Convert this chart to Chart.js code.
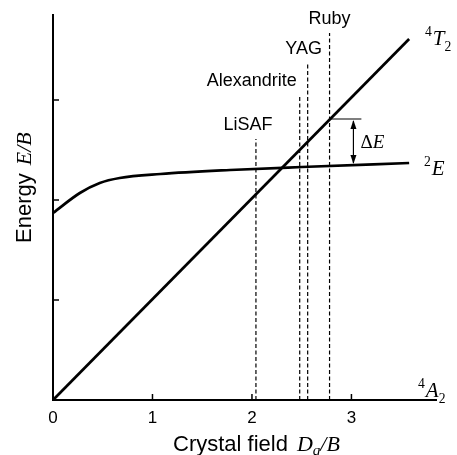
<!DOCTYPE html>
<html>
<head>
<meta charset="utf-8">
<script src="https://cdn.jsdelivr.net/npm/chart.js@4/dist/chart.umd.min.js"></script>
<style>
  body { margin: 0; background: #fff; }
  canvas { display: block; }
</style>
</head>
<body>
<canvas id="tanabe" width="457" height="455"></canvas>
<script>
// Tanabe-Sugano style levels for Cr3+ in different hosts
const SANS = '"Liberation Sans", Arial, sans-serif';
const SERIF = '"Liberation Serif", "Times New Roman", serif';

// 4T2 level (straight line from the origin)
const t2Field = [0, 3.58];
const t2Energy = [0, 3.61];

// 2E level (flat after the initial rise)
const eField = [0, 0.27, 0.47, 0.67, 1.08, 1.78, 2.5, 3.58];
const eEnergy = [1.87, 2.07, 2.17, 2.22, 2.26, 2.30, 2.33, 2.37];

// host crystals: crystal field position and top of the marker line
const hosts = ['LiSAF', 'Alexandrite', 'YAG', 'Ruby'];
const hostField = [2.04, 2.48, 2.56, 2.78];
const hostTop = [2.61, 3.05, 3.37, 3.67];

// axis ticks
const xTicks = [0, 1, 2, 3];
const yTicks = [1, 2, 3];

// Delta E bracket for ruby
const gapField = 3.02;
const gapTop = 2.81;
const gapBottom = 2.35;
const gapCapEnd = 3.1;

function pts(xs, ys) {
    return xs.map((x, i) => ({ x: x, y: ys[i] }));
}

const datasets = [
    {
        label: '4T2',
        data: pts(t2Field, t2Energy),
        borderColor: '#000',
        borderWidth: 2.7,
        showLine: true,
        pointRadius: 0
    },
    {
        label: '2E',
        data: pts(eField, eEnergy),
        borderColor: '#000',
        borderWidth: 2.7,
        showLine: true,
        pointRadius: 0,
        cubicInterpolationMode: 'monotone'
    }
];

hosts.forEach((name, i) => {
    datasets.push({
        label: name,
        data: [{ x: hostField[i], y: 0 }, { x: hostField[i], y: hostTop[i] }],
        borderColor: '#000',
        borderWidth: 1.2,
        borderDash: [4, 2.5],
        showLine: true,
        pointRadius: 0
    });
});

// short cap line at the top of the Delta E bracket
datasets.push({
    label: 'gapCap',
    data: [{ x: hostField[3], y: gapTop }, { x: gapCapEnd, y: gapTop }],
    borderColor: '#000',
    borderWidth: 1.2,
    showLine: true,
    pointRadius: 0
});

function drawLevel(ctx, x, y, sup, main, sub, size) {
    ctx.fillStyle = '#000';
    ctx.textBaseline = 'alphabetic';
    ctx.textAlign = 'left';
    let cx = x;
    if (sup) {
        ctx.font = (size * 0.65) + 'px ' + SERIF;
        ctx.fillText(sup, cx, y - size * 0.42);
        cx += ctx.measureText(sup).width + 1;
    }
    ctx.font = 'italic ' + size + 'px ' + SERIF;
    ctx.fillText(main, cx, y);
    cx += ctx.measureText(main).width;
    if (sub) {
        ctx.font = (size * 0.65) + 'px ' + SERIF;
        ctx.fillText(sub, cx, y + size * 0.28);
    }
}

const annotations = {
    id: 'annotations',
    afterDraw(chart) {
        const ctx = chart.ctx;
        const xs = chart.scales.x;
        const ys = chart.scales.y;
        const area = chart.chartArea;
        ctx.save();
        ctx.strokeStyle = '#000';
        ctx.fillStyle = '#000';

        // inward tick marks
        ctx.lineWidth = 1.5;
        yTicks.forEach(v => {
            const py = ys.getPixelForValue(v);
            ctx.beginPath();
            ctx.moveTo(area.left, py);
            ctx.lineTo(area.left + 6, py);
            ctx.stroke();
        });
        xTicks.slice(1).forEach(v => {
            const px = xs.getPixelForValue(v);
            ctx.beginPath();
            ctx.moveTo(px, area.bottom);
            ctx.lineTo(px, area.bottom - 6);
            ctx.stroke();
        });

        // host names above their marker lines
        ctx.font = '18px ' + SANS;
        ctx.textAlign = 'center';
        ctx.textBaseline = 'alphabetic';
        const nudge = [-8, -48, -4, 0];
        hosts.forEach((name, i) => {
            const px = xs.getPixelForValue(hostField[i]) + nudge[i];
            const py = ys.getPixelForValue(hostTop[i]) - 9;
            ctx.fillText(name, px, py);
        });

        // Delta E double arrow
        const ax = xs.getPixelForValue(gapField);
        const a1 = ys.getPixelForValue(gapTop);
        const a2 = ys.getPixelForValue(gapBottom);
        ctx.lineWidth = 1.2;
        ctx.beginPath();
        ctx.moveTo(ax, a1 + 2);
        ctx.lineTo(ax, a2 - 2);
        ctx.stroke();
        ctx.beginPath();
        ctx.moveTo(ax, a1 + 1);
        ctx.lineTo(ax - 3, a1 + 10);
        ctx.lineTo(ax + 3, a1 + 10);
        ctx.closePath();
        ctx.fill();
        ctx.beginPath();
        ctx.moveTo(ax, a2 - 1);
        ctx.lineTo(ax - 3, a2 - 10);
        ctx.lineTo(ax + 3, a2 - 10);
        ctx.closePath();
        ctx.fill();
        ctx.textAlign = 'left';
        ctx.font = '19px ' + SERIF;
        const dy = (a1 + a2) / 2 + 6;
        ctx.fillText('\u0394', ax + 7, dy);
        const dw = ctx.measureText('\u0394').width;
        ctx.font = 'italic 19px ' + SERIF;
        ctx.fillText('E', ax + 7 + dw, dy);

        // level names at the right end
        drawLevel(ctx, 425, 45, '4', 'T', '2', 21);
        drawLevel(ctx, 424, 175, '2', 'E', '', 21);
        drawLevel(ctx, 418, 397, '4', 'A', '2', 21);

        // axis titles
        ctx.textAlign = 'left';
        ctx.textBaseline = 'alphabetic';
        ctx.font = '22px ' + SANS;
        ctx.fillText('Crystal field', 173, 451);
        let cx = 173 + ctx.measureText('Crystal field').width + 9;
        ctx.font = 'italic 22px ' + SERIF;
        ctx.fillText('D', cx, 451);
        cx += ctx.measureText('D').width;
        ctx.font = 'italic 15px ' + SERIF;
        ctx.fillText('q', cx, 455);
        cx += ctx.measureText('q').width;
        ctx.font = 'italic 22px ' + SERIF;
        ctx.fillText('/B', cx, 451);

        ctx.translate(31, 243);
        ctx.rotate(-Math.PI / 2);
        ctx.font = '22px ' + SANS;
        ctx.fillText('Energy', 0, 0);
        const ew = ctx.measureText('Energy').width + 8;
        ctx.font = 'italic 22px ' + SERIF;
        ctx.fillText('E/B', ew, 0);

        ctx.restore();
    }
};

new Chart(document.getElementById('tanabe'), {
    type: 'scatter',
    data: { datasets: datasets },
    options: {
        responsive: false,
        animation: false,
        layout: { padding: { left: 0, top: 15, right: 21, bottom: 0 } },
        plugins: {
            legend: { display: false },
            tooltip: { enabled: false }
        },
        elements: { line: { tension: 0 } },
        datasets: { scatter: { clip: false } },
        scales: {
            x: {
                type: 'linear',
                min: 0,
                max: 3.85,
                grid: { display: false, drawTicks: false },
                border: { display: true, color: '#000', width: 2 },
                afterBuildTicks: s => { s.ticks = xTicks.map(v => ({ value: v })); },
                afterFit: s => { s.height = 55; },
                ticks: {
                    color: '#000',
                    padding: 8,
                    maxRotation: 0,
                    font: { family: SANS, size: 17 },
                    callback: v => String(v)
                }
            },
            y: {
                type: 'linear',
                min: 0,
                max: 3.85,
                grid: { display: false, drawTicks: false },
                border: { display: true, color: '#000', width: 2 },
                ticks: { display: false },
                afterFit: s => { s.width = 53; }
            }
        }
    },
    plugins: [annotations]
});
</script>
</body>
</html>
